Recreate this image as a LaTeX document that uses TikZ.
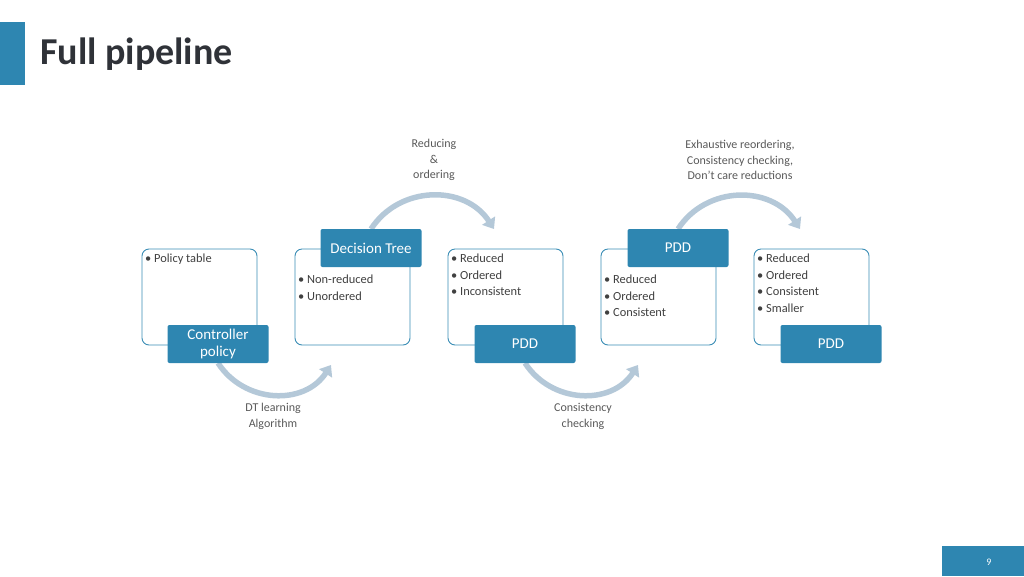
\documentclass[tikz,border=0pt]{standalone}
\usepackage{fontspec}
\setmainfont{Carlito}
\usetikzlibrary{arrows.meta}
\definecolor{slideblue}{HTML}{2E86B1}
\definecolor{panelline}{HTML}{3A8DB5}
\definecolor{flowgray}{HTML}{B4C8D8}
\definecolor{titlegray}{HTML}{2F3238}
\definecolor{textgray}{HTML}{404040}
\definecolor{notegray}{HTML}{595959}

\begin{document}
\begin{tikzpicture}[x=1pt,y=1pt,
  panel/.style={draw=panelline,line width=0.9pt,rounded corners=7pt,minimum width=115pt,minimum height=96pt,fill=white},
  head/.style={fill=slideblue,rounded corners=2pt,minimum width=101pt,minimum height=38pt,text=white,align=center,inner sep=0pt,font=\fontsize{15}{17}\selectfont},
  items/.style={anchor=north west,align=left,inner sep=0pt,text=textgray,font=\fontsize{12.4}{16.5}\selectfont},
  note/.style={align=center,text=notegray,font=\fontsize{12}{15.5}\selectfont},
  flow/.style={draw=flowgray,line width=5.5pt,-{Triangle[width=15pt,length=10pt]}}]
\useasboundingbox (0,0) rectangle (1024,-576);
% slide frame
\fill[slideblue] (0,-22) rectangle (25,-85);
\node[anchor=base west,inner sep=0pt,text=titlegray,font=\fontsize{38}{42}\bfseries\selectfont] (title) at (40,-64) {Full pipeline};
\fill[slideblue] (942,-546) rectangle (1024,-576);
\node[inner sep=0pt,text=white,font=\fontsize{10}{12}\selectfont] (page) at (989,-562) {9};

% panels
\node[panel] (p1) at (199.5,-297) {};
\node[panel] (p2) at (352.5,-297) {};
\node[panel] (p3) at (505.5,-297) {};
\node[panel] (p4) at (658.5,-297) {};
\node[panel] (p5) at (811.5,-297) {};

% flow arrows
\coordinate (e1) at (331,-365);
\coordinate (e2) at (494,-229);
\coordinate (e3) at (638,-365);
\coordinate (e4) at (800,-229);
\draw[flow] (218,-363) to[out=-57,in=-123,looseness=1.1] (e1);
\draw[flow] (371,-229) to[out=57,in=123,looseness=1.1] (e2);
\draw[flow] (525,-363) to[out=-57,in=-123,looseness=1.1] (e3);
\draw[flow] (678,-229) to[out=57,in=123,looseness=1.1] (e4);

% headers
\node[head] (ctrl) at (218,-344) {Controller\\policy};
\node[head] (dt) at (371,-248) {Decision Tree};
\node[head] (pdd1) at (525,-344) {PDD};
\node[head] (pdd2) at (678,-248) {PDD};
\node[head] (pdd3) at (831,-344) {PDD};

% bullet lists
\node[items] (l1) at (145,-254) {\textbullet~Policy table};
\node[items] (l2) at (298,-275) {\textbullet~Non-reduced\\\textbullet~Unordered};
\node[items] (l3) at (451,-254) {\textbullet~Reduced\\\textbullet~Ordered\\\textbullet~Inconsistent};
\node[items] (l4) at (604,-275) {\textbullet~Reduced\\\textbullet~Ordered\\\textbullet~Consistent};
\node[items] (l5) at (757,-254) {\textbullet~Reduced\\\textbullet~Ordered\\\textbullet~Consistent\\\textbullet~Smaller};

% step notes
\node[note] (n1) at (434,-160) {Reducing\\\&\\ordering};
\node[note] (n2) at (740,-160) {Exhaustive reordering,\\Consistency checking,\\Don’t care reductions};
\node[note,font=\fontsize{12}{16}\selectfont] (n3) at (273,-416) {DT learning\\Algorithm};
\node[note,font=\fontsize{12}{16}\selectfont] (n4) at (583,-416) {Consistency\\checking};
\end{tikzpicture}
\end{document}
